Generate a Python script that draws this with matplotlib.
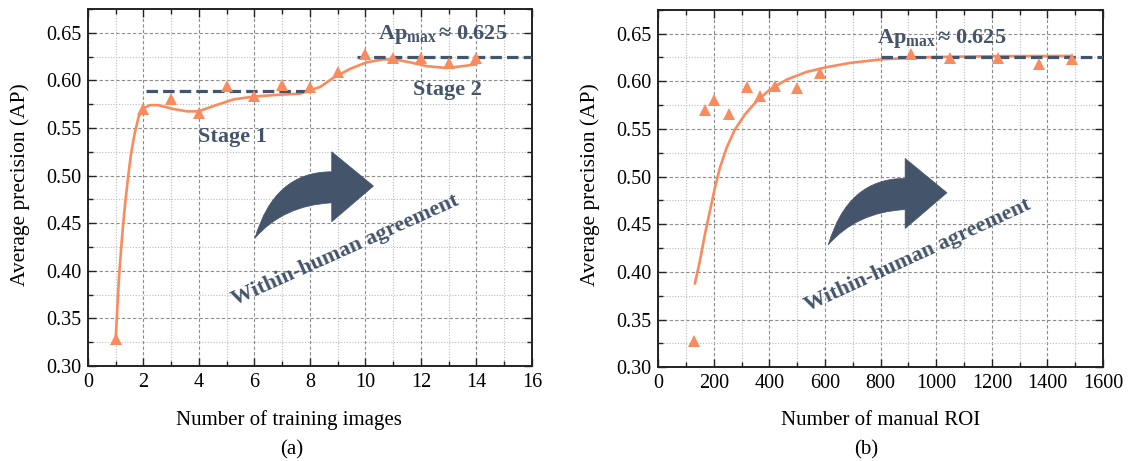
import matplotlib
matplotlib.use("Agg")
import matplotlib.pyplot as plt
from matplotlib.path import Path
from matplotlib.patches import PathPatch
from matplotlib.ticker import MultipleLocator, FormatStrFormatter

# ---------------- data ----------------
n_images = [1, 2, 3, 4, 5, 6, 7, 8, 9, 10, 11, 12, 13, 14]
n_roi = [129, 167, 201, 253, 318, 367, 419, 498, 583, 908, 1051, 1221, 1368, 1487]
ap = [0.328, 0.570, 0.580, 0.566, 0.594, 0.584, 0.595, 0.593, 0.609, 0.628,
      0.624, 0.624, 0.618, 0.623]

# smoothed trend curve (a)
curve_a_x = [1.0, 1.06, 1.118, 1.2, 1.27, 1.353, 1.447, 1.553, 1.682, 1.824, 1.976,
             2.235, 2.53, 3.07, 3.56, 3.98, 4.52, 5.24, 5.96, 6.92, 7.64, 8.0, 8.36,
             8.84, 9.44, 10.04, 10.64, 11.06, 11.6, 12.2, 12.93, 13.52, 14.0]
curve_a_y = [0.328, 0.362, 0.393, 0.425, 0.4495, 0.474, 0.4986, 0.523, 0.544, 0.5617,
             0.5704, 0.574, 0.574, 0.570, 0.5675, 0.5675, 0.573, 0.580, 0.583, 0.585,
             0.586, 0.5896, 0.593, 0.6026, 0.612, 0.619, 0.622, 0.622, 0.619, 0.615,
             0.613, 0.615, 0.617]

# fitted saturation curve (b)
curve_b_x = [131.5, 149.5, 167.6, 185.6, 203.6, 221.6, 245.6, 275.7, 311.7, 353.8,
             401.8, 461.9, 533.9, 606, 690, 806, 985, 1200, 1487]
curve_b_y = [0.3877, 0.4115, 0.4394, 0.4638, 0.4883, 0.5092, 0.5302, 0.5494, 0.5651,
             0.5791, 0.5913, 0.6017, 0.6098, 0.6147, 0.6192, 0.623, 0.6253, 0.6262,
             0.6265]

stage1_x = [2.1, 8.0]
stage1_y = 0.589
stage2_x = [9.7, 16.0]
ap_max = 0.625
apmax_b_x = [800, 1600]

x_ticks_a = [0, 2, 4, 6, 8, 10, 12, 14, 16]
x_ticks_b = [0, 200, 400, 600, 800, 1000, 1200, 1400, 1600]
y_ticks = [0.30, 0.35, 0.40, 0.45, 0.50, 0.55, 0.60, 0.65]

# ---------------- style ----------------
plt.rcParams['font.family'] = ['Liberation Serif', 'DejaVu Serif']
plt.rcParams['mathtext.fontset'] = 'custom'
plt.rcParams['mathtext.rm'] = 'Liberation Serif'
plt.rcParams['mathtext.bf'] = 'Liberation Serif:bold'
plt.rcParams['mathtext.it'] = 'Liberation Serif:italic'

ORANGE = '#F98B5E'
SLATE = '#44546A'

fig = plt.figure(figsize=(11.29, 4.61), dpi=100)
ax_a = fig.add_axes([0.0779, 0.2061, 0.3933, 0.7744])
ax_b = fig.add_axes([0.5831, 0.2033, 0.3939, 0.7757])


def style_axes(ax, xminor, xlim, xticks):
    ax.set_xlim(*xlim)
    ax.set_ylim(0.30, 0.675)
    ax.set_xticks(xticks)
    ax.set_yticks(y_ticks)
    ax.xaxis.set_minor_locator(MultipleLocator(xminor))
    ax.yaxis.set_minor_locator(MultipleLocator(0.025))
    ax.yaxis.set_major_formatter(FormatStrFormatter('%.2f'))
    ax.tick_params(which='both', direction='in', top=True, right=True,
                   labelsize=14.5, color='#222222', width=1.0, pad=5)
    ax.tick_params(which='major', length=6)
    ax.tick_params(which='minor', length=3.5)
    ax.grid(which='major', color='#8c8c8c', linestyle=(0, (3, 2)), linewidth=0.8)
    ax.grid(which='minor', color='#bdbdbd', linestyle=(0, (1, 1.5)), linewidth=0.8)
    ax.set_axisbelow(True)
    for s in ax.spines.values():
        s.set_linewidth(1.4)
        s.set_color('#222222')


def draw_arrow(ax, ox, oy):
    # curved block arrow in axes-fraction coordinates
    verts = [
        (ox + 0.000, oy + 0.000),          # tail point
        (ox + 0.044, oy + 0.187),          # control (upper edge)
        (ox + 0.173, oy + 0.186),          # body upper at head base
        (ox + 0.173, oy + 0.242),          # head top
        (ox + 0.267, oy + 0.146),          # tip
        (ox + 0.173, oy + 0.046),          # head bottom
        (ox + 0.173, oy + 0.099),          # body lower at head base
        (ox + 0.064, oy + 0.092),          # control (lower edge)
        (ox + 0.000, oy + 0.000),          # back to tail
        (ox + 0.000, oy + 0.000),
    ]
    codes = [Path.MOVETO, Path.CURVE3, Path.CURVE3, Path.LINETO, Path.LINETO,
             Path.LINETO, Path.LINETO, Path.CURVE3, Path.CURVE3, Path.CLOSEPOLY]
    patch = PathPatch(Path(verts, codes), transform=ax.transAxes,
                      facecolor=SLATE, edgecolor=SLATE, linewidth=0.5, zorder=3)
    ax.add_patch(patch)


APMAX_LABEL = r'Ap$_{\mathbf{max}}\,$≈ 0.625'

# ---------------- panel (a) ----------------
style_axes(ax_a, 1, (0, 16), x_ticks_a)
ax_a.plot(curve_a_x, curve_a_y, color=ORANGE, linewidth=1.9, zorder=4,
          solid_joinstyle='round', solid_capstyle='round')
ax_a.plot(n_images, ap, linestyle='none', marker='^', markersize=8,
          color=ORANGE, markeredgewidth=0, zorder=5)
ax_a.plot(stage1_x, [stage1_y, stage1_y], color=SLATE, linewidth=2.3,
          dashes=(3.6, 1.6), zorder=4)
ax_a.plot(stage2_x, [ap_max, ap_max], color=SLATE, linewidth=2.3,
          dashes=(3.6, 1.6), zorder=4)
ax_a.text(10.45, 0.6437, APMAX_LABEL, fontsize=16, fontweight='bold',
          color=SLATE, ha='left', va='baseline', zorder=6)
ax_a.text(5.2, 0.541, 'Stage 1', fontsize=16, fontweight='bold', color=SLATE,
          ha='center', va='center', zorder=6)
ax_a.text(12.97, 0.5896, 'Stage 2', fontsize=16, fontweight='bold', color=SLATE,
          ha='center', va='center', zorder=6)
ax_a.text(9.26, 0.421, 'Within-human agreement', fontsize=16, fontweight='bold',
          color=SLATE, ha='center', va='center', rotation=24.2,
          rotation_mode='anchor', zorder=6)
draw_arrow(ax_a, 0.376, 0.358)

# ---------------- panel (b) ----------------
style_axes(ax_b, 100, (0, 1600), x_ticks_b)
ax_b.plot(curve_b_x, curve_b_y, color=ORANGE, linewidth=1.9, zorder=4,
          solid_joinstyle='round', solid_capstyle='round')
ax_b.plot(n_roi, ap, linestyle='none', marker='^', markersize=8,
          color=ORANGE, markeredgewidth=0, zorder=5)
ax_b.plot(apmax_b_x, [ap_max, ap_max], color=SLATE, linewidth=2.3,
          dashes=(3.6, 1.6), zorder=4)
ax_b.text(786, 0.640, APMAX_LABEL, fontsize=16, fontweight='bold',
          color=SLATE, ha='left', va='baseline', zorder=6)
ax_b.text(933, 0.417, 'Within-human agreement', fontsize=16, fontweight='bold',
          color=SLATE, ha='center', va='center', rotation=24.7,
          rotation_mode='anchor', zorder=6)
draw_arrow(ax_b, 0.382, 0.342)

# ---------------- labels ----------------
fig.text(20 / 1129, 1 - 185 / 461, 'Average precision (AP)', fontsize=15.5,
         rotation=90, ha='center', va='center')
fig.text(590 / 1129, 1 - 185 / 461, 'Average precision (AP)', fontsize=15.5,
         rotation=90, ha='center', va='center')
fig.text(289 / 1129, 1 - 420 / 461, 'Number of training images', fontsize=15,
         ha='center', va='center')
fig.text(881 / 1129, 1 - 420 / 461, 'Number of manual ROI', fontsize=15,
         ha='center', va='center')
fig.text(292 / 1129, 1 - 450 / 461, '(a)', fontsize=15, ha='center', va='center')
fig.text(866 / 1129, 1 - 450 / 461, '(b)', fontsize=15, ha='center', va='center')

fig.savefig('out.png', dpi=100)
